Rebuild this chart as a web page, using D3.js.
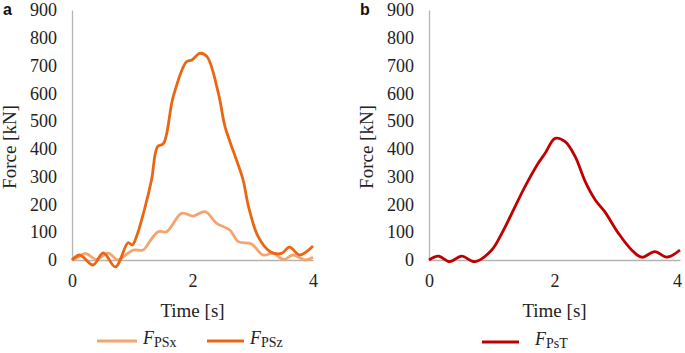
<!doctype html>
<html>
  <head>
    <meta charset="utf-8">
    <title>Force vs time</title>
    <script src="https://cdn.jsdelivr.net/npm/d3@7/dist/d3.min.js"></script>
    <style>
      body { margin: 0; background: #fff; }
    </style>
  </head>
  <body>
    <script>
      // [time s, force kN]
      const fPSx = [
        [0, 0], [0.1, 10], [0.22, 24], [0.41, 2], [0.6, 25], [0.76, 0], [0.9, 20],
        [1.02, 36], [1.18, 36], [1.3, 70], [1.43, 102], [1.57, 102], [1.82, 168],
        [2.01, 158], [2.21, 174], [2.4, 132], [2.62, 108], [2.76, 66], [2.98, 58],
        [3.17, 18], [3.34, 24], [3.51, 2], [3.67, 18], [3.87, 0], [4.0, 10]
      ];
      const fPSz = [
        [0, 0], [0.13, 18], [0.35, -18], [0.52, 26], [0.72, -25], [0.93, 62],
        [1.0, 54], [1.07, 84], [1.2, 180], [1.32, 288], [1.42, 408], [1.52, 420],
        [1.68, 588], [1.9, 714], [1.99, 720], [2.12, 744], [2.24, 732], [2.43, 600],
        [2.54, 480], [2.73, 360], [2.84, 288], [2.93, 192], [3.09, 84], [3.29, 30],
        [3.48, 24], [3.61, 46], [3.78, 18], [4.0, 50]
      ];
      const fPsT = [
        [0, 0], [0.15, 14], [0.33, -6], [0.52, 14], [0.73, -6], [1.0, 36],
        [1.16, 96], [1.32, 168], [1.53, 264], [1.74, 348], [1.85, 384], [2.01, 438],
        [2.17, 426], [2.33, 372], [2.49, 282], [2.65, 216], [2.8, 174], [3.02, 96],
        [3.23, 36], [3.39, 10], [3.6, 30], [3.79, 10], [4.0, 36]
      ];
      const yTicks = [0, 100, 200, 300, 400, 500, 600, 700, 800, 900];
      const xTicks = [0, 2, 4];

      const SERIF = '"Liberation Serif", "Times New Roman", Tinos';

      const svg = d3.select('body').append('svg')
          .attr('width', 685)
          .attr('height', 353);

      const yScale = d3.scaleLinear().domain([0, 900]).range([260, 10]);

      function panel(letter, x0, x1, series, legend, legendY) {
        const xScale = d3.scaleLinear().domain([0, 4]).range([x0, x1]);
        const g = svg.append('g');

        // axes (no tick marks, grey lines)
        const yAxis = d3.axisLeft(yScale).tickValues(yTicks).tickSize(0).tickPadding(15)
            .tickFormat(d3.format('d'));
        const gy = g.append('g').attr('transform', `translate(${x0},0)`).call(yAxis);
        const xAxis = d3.axisBottom(xScale).tickValues(xTicks).tickSize(0).tickPadding(14)
            .tickFormat(d3.format('d'));
        const gx = g.append('g').attr('transform', `translate(0,${yScale(0)})`).call(xAxis);
        [gy, gx].forEach(a => {
          a.attr('font-family', null);
          a.select('.domain').attr('stroke', '#b3b3b3').attr('stroke-width', 1.3);
          a.selectAll('text')
              .style('font-family', SERIF)
              .style('font-size', '18px')
              .attr('fill', '#222');
        });

        // lines
        const line = d3.line()
            .x(d => xScale(d[0]))
            .y(d => yScale(d[1]))
            .curve(d3.curveCatmullRom.alpha(0.5));
        series.forEach(s => {
          g.append('path')
              .datum(s.data)
              .attr('fill', 'none')
              .attr('stroke', s.color)
              .attr('stroke-width', 2.8)
              .attr('stroke-linejoin', 'round')
              .attr('d', line);
        });

        // titles
        g.append('text')
            .attr('x', (x0 + x1) / 2)
            .attr('y', 317)
            .attr('text-anchor', 'middle')
            .style('font-family', SERIF)
            .style('font-size', '19px')
            .attr('fill', '#222')
            .text('Time [s]');
        g.append('text')
            .attr('transform', `translate(${x0 - 56},147) rotate(-90)`)
            .attr('text-anchor', 'middle')
            .style('font-family', SERIF)
            .style('font-size', '19px')
            .attr('fill', '#222')
            .text('Force [kN]');
        g.append('text')
            .attr('x', x0 - 69)
            .attr('y', 15)
            .style('font-family', '"Liberation Sans", Arial')
            .style('font-weight', 'bold')
            .style('font-size', '16px')
            .attr('fill', '#111')
            .text(letter);

        // legend
        legend.forEach(l => {
          const s = series[l.i];
          g.append('line')
              .attr('x1', l.x).attr('x2', l.x + l.w)
              .attr('y1', legendY).attr('y2', legendY)
              .attr('stroke', s.color)
              .attr('stroke-width', 3);
          const t = g.append('text')
              .attr('x', l.tx)
              .attr('y', legendY + 3)
              .style('font-family', SERIF)
              .style('font-size', '18px')
              .attr('fill', '#222');
          t.append('tspan').style('font-style', 'italic').text('F');
          t.append('tspan').style('font-size', '14px').attr('dy', 3).text(s.sub);
        });
        return gx;
      }

      panel('a', 72, 313, [
        { data: fPSx, color: '#F4A46E', sub: 'PSx' },
        { data: fPSz, color: '#EB6612', sub: 'PSz' }
      ], [{ i: 0, x: 97, w: 40, tx: 143 }, { i: 1, x: 207, w: 37, tx: 250 }], 341);

      const gxb = panel('b', 429, 680, [
        { data: fPsT, color: '#C00000', sub: 'PsT' }
      ], [{ i: 0, x: 482, w: 37, tx: 535 }], 342);
      // keep the last tick label inside the window
      gxb.selectAll('.tick text').filter(d => d === 4).attr('dx', -3);
    </script>
  </body>
</html>
